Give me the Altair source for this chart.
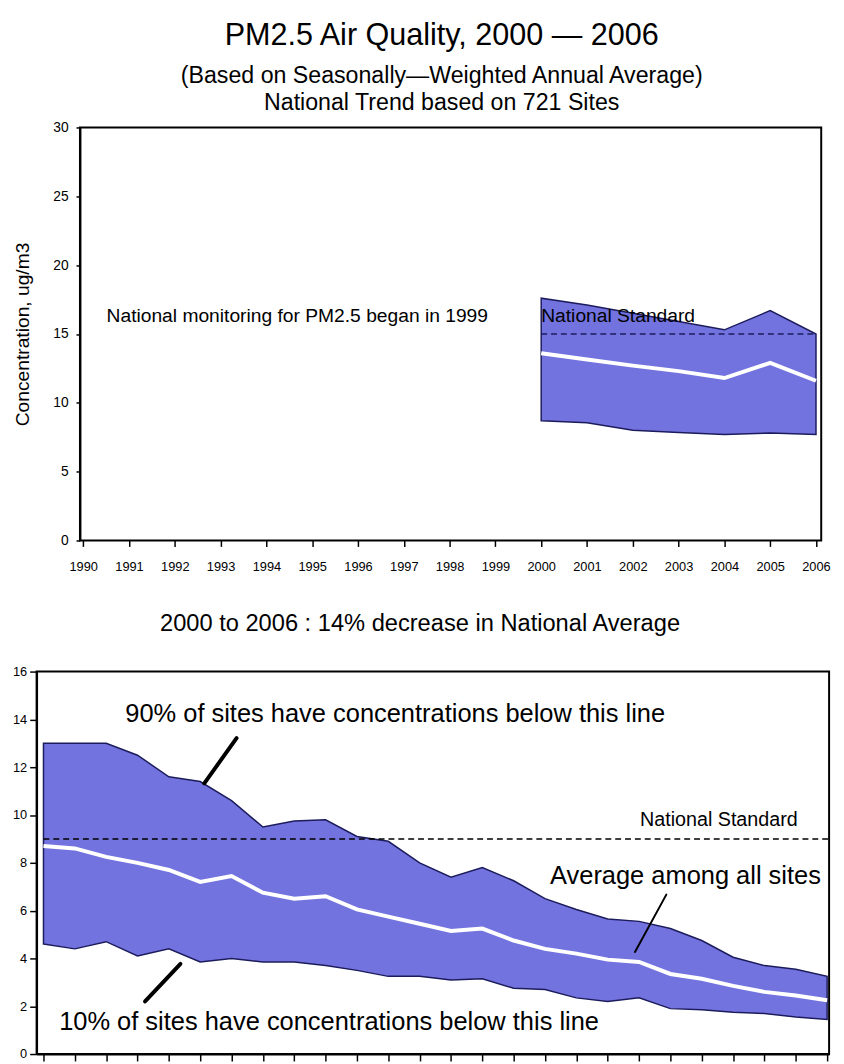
import altair as alt
import pandas as pd

FONT = "Liberation Sans"
BAND = "#7373E0"
EDGE = "#1c1c5c"

# ---------------- top panel data (PM2.5, 2000-2006) ----------------
top_years = [2000, 2001, 2002, 2003, 2004, 2005, 2006]
top_p90 = [17.6, 17.1, 16.5, 15.9, 15.3, 16.7, 15.0]
top_mean = [13.6, 13.15, 12.7, 12.3, 11.8, 12.9, 11.6]
top_p10 = [8.7, 8.55, 8.0, 7.85, 7.7, 7.8, 7.7]
top_tick_years = list(range(1990, 2007))
top_y_ticks = [0, 5, 10, 15, 20, 25, 30]
top_standard = 15

# ---------------- bottom panel data ----------------
bot_years = list(range(1981, 2007))
bot_p90 = [13.0, 13.0, 13.0, 12.5, 11.6, 11.4, 10.6, 9.5, 9.75, 9.8, 9.1, 8.9, 8.0,
           7.4, 7.8, 7.25, 6.5, 6.05, 5.65, 5.55, 5.25, 4.75, 4.05, 3.7, 3.55, 3.25]
bot_mean = [8.7, 8.6, 8.25, 8.0, 7.7, 7.2, 7.45, 6.75, 6.5, 6.6, 6.05, 5.75, 5.45,
            5.15, 5.25, 4.75, 4.4, 4.2, 3.95, 3.85, 3.35, 3.15, 2.85, 2.6, 2.45, 2.25]
bot_p10 = [4.6, 4.4, 4.7, 4.1, 4.4, 3.85, 4.0, 3.85, 3.85, 3.7, 3.5, 3.25, 3.25,
           3.1, 3.15, 2.75, 2.7, 2.35, 2.2, 2.35, 1.9, 1.85, 1.75, 1.7, 1.55, 1.45]
bot_y_ticks = [0, 2, 4, 6, 8, 10, 12, 14, 16]
bot_standard = 9

# annotation texts
title_main = "PM2.5 Air Quality, 2000 \u2014 2006"
title_sub = ["(Based on Seasonally\u2014Weighted Annual Average)",
             "National Trend based on 721 Sites"]
mid_title = "2000 to 2006 :  14% decrease in National Average"
top_notes = ["National monitoring for PM2.5 began in 1999", "National Standard"]
top_note_x = [1990.51, 2000.0]
top_note_y = [16.27, 16.32]

bot_notes = ["90% of sites have concentrations below this line",
             "10% of sites have concentrations below this line",
             "Average among all sites"]
bot_note_x = [1983.61, 1981.50, 1997.16]
bot_note_y = [14.22, 1.33, 7.46]
bot_std_label = "National Standard"
bot_std_x = [2000.03]
bot_std_y = [9.78]

# pointer segments (year, value)
ptr_x = [1987.16, 1985.37, 2000.87]
ptr_y = [13.22, 3.77, 6.67]
ptr_x2 = [1986.13, 1984.24, 1999.87]
ptr_y2 = [11.32, 2.20, 4.27]
ptr_w = [4, 4, 2]

# ---------------- top chart ----------------
xt = alt.Scale(domain=[1988.982, 2006.114], nice=False, zero=False)
yt = alt.Scale(domain=[0, 30], nice=False, zero=False)

top_df = pd.DataFrame({"year": top_years, "p90": top_p90, "mean": top_mean, "p10": top_p10})

x_axis_top = alt.Axis(values=top_tick_years, format="d", domain=False, tickSize=6,
                      tickWidth=1.5, tickColor="black", labelFontSize=13, labelPadding=14,
                      grid=False, title=None)
y_axis_top = alt.Axis(values=top_y_ticks, offset=-44, domainColor="black", domainWidth=2,
                      tickSize=4, tickWidth=1.5, tickColor="black", labelFontSize=14,
                      labelPadding=8, grid=False, title="Concentration, ug/m3",
                      titleFontSize=19.5, titleFontWeight="normal", titleX=-58, titleY=209.5,
                      titleAngle=270, titleAlign="center", titleBaseline="middle")


def XT(f):
    return alt.X(f, scale=xt, axis=x_axis_top)


def YT(f):
    return alt.Y(f, scale=yt, axis=y_axis_top)


frame_top = alt.Chart(pd.DataFrame({"x": [1989.929], "x2": [2006.114], "y": [0], "y2": [30]})).mark_rect(
    fill="transparent", stroke="black", strokeWidth=2
).encode(x=XT("x:Q"), x2="x2:Q", y=YT("y:Q"), y2="y2:Q")

band_top = alt.Chart(top_df).mark_area(color=BAND, opacity=1, stroke=EDGE, strokeWidth=1.5).encode(
    x=XT("year:Q"), y=YT("p10:Q"), y2="p90:Q",
)
mean_top = alt.Chart(top_df).mark_line(color="white", strokeWidth=4).encode(
    x=XT("year:Q"), y=YT("mean:Q"),
)
std_top = alt.Chart(pd.DataFrame({"x": [top_years[0]], "x2": [top_years[-1]], "y": [top_standard]})).mark_rule(
    color=EDGE, strokeWidth=1.5, strokeDash=[6, 4]
).encode(x=XT("x:Q"), x2="x2:Q", y=YT("y:Q"))
notes_top = alt.Chart(pd.DataFrame({"t": top_notes, "x": top_note_x, "y": top_note_y})).mark_text(
    align="left", baseline="middle", font=FONT, fontSize=19.5, color="black"
).encode(x=XT("x:Q"), y=YT("y:Q"), text="t:N")

top = alt.layer(band_top, mean_top, std_top, notes_top, frame_top).properties(
    width=796, height=419,
    view=alt.ViewBackground(stroke="transparent"),
    title=alt.TitleParams(text=title_main, subtitle=title_sub, anchor="middle", frame="group",
                          fontSize=31, fontWeight="normal", font=FONT, color="black",
                          subtitleFont=FONT, subtitleFontSize=23.5, subtitleColor="black",
                          subtitlePadding=13, subtitleLineHeight=27, offset=5.5, dx=13),
)

# ---------------- bottom chart ----------------
xb = alt.Scale(domain=[1980.78, 2006.063], nice=False, zero=False)
yb = alt.Scale(domain=[0, 16], nice=False, zero=False)

bot_df = pd.DataFrame({"year": bot_years, "p90": bot_p90, "mean": bot_mean, "p10": bot_p10})

x_axis_bot = alt.Axis(values=bot_years, labels=False, tickSize=7, tickWidth=1.5, tickColor="black",
                      domainColor="black", domainWidth=2, grid=False, title=None)
y_axis_bot = alt.Axis(values=bot_y_ticks, tickSize=7, tickWidth=1.5, tickColor="black",
                      domainColor="black", domainWidth=2, labelFontSize=13, labelPadding=3,
                      grid=False, title=None)


def XB(f):
    return alt.X(f, scale=xb, axis=x_axis_bot)


def YB(f):
    return alt.Y(f, scale=yb, axis=y_axis_bot)


band_bot = alt.Chart(bot_df).mark_area(color=BAND, opacity=1, stroke=EDGE, strokeWidth=1.5).encode(
    x=XB("year:Q"), y=YB("p10:Q"), y2="p90:Q",
)
std_bot = alt.Chart(pd.DataFrame({"x": [bot_years[0]], "x2": [2006.063], "y": [bot_standard]})).mark_rule(
    color="black", strokeWidth=1.5, strokeDash=[6, 4]
).encode(x=XB("x:Q"), x2="x2:Q", y=YB("y:Q"))
mean_bot = alt.Chart(bot_df).mark_line(color="white", strokeWidth=4).encode(
    x=XB("year:Q"), y=YB("mean:Q"),
)
ptr_df = pd.DataFrame({"x": ptr_x, "y": ptr_y, "x2": ptr_x2, "y2": ptr_y2, "w": ptr_w})
pointers = alt.Chart(ptr_df).mark_rule(color="black", strokeCap="round").encode(
    x=XB("x:Q"), x2="x2:Q", y=YB("y:Q"), y2="y2:Q",
    strokeWidth=alt.StrokeWidth("w:Q", scale=None, legend=None),
)
notes_bot = alt.Chart(pd.DataFrame({"t": bot_notes, "x": bot_note_x, "y": bot_note_y})).mark_text(
    align="left", baseline="middle", font=FONT, fontSize=25.8, color="black"
).encode(x=XB("x:Q"), y=YB("y:Q"), text="t:N")
std_label_bot = alt.Chart(pd.DataFrame({"t": [bot_std_label], "x": bot_std_x, "y": bot_std_y})).mark_text(
    align="left", baseline="middle", font=FONT, fontSize=20, color="black"
).encode(x=XB("x:Q"), y=YB("y:Q"), text="t:N")

bottom = alt.layer(band_bot, std_bot, mean_bot, pointers, notes_bot, std_label_bot).properties(
    width=804, height=388,
    view=alt.ViewBackground(stroke="black", strokeWidth=2),
    title=alt.TitleParams(text=mid_title, anchor="middle", frame="group", fontSize=24,
                          fontWeight="normal", font=FONT, color="black", offset=30, dx=-13),
)

chart = alt.vconcat(top, bottom, spacing=38).properties(
    padding={"left": 3, "top": 3.5, "right": 0, "bottom": 0}
).configure_view(stroke=None).configure_axis(
    labelFont=FONT, titleFont=FONT, labelColor="black", titleColor="black"
).configure_concat(spacing=38)

chart.save("out.html", embed_options={"renderer": "svg", "actions": False})
